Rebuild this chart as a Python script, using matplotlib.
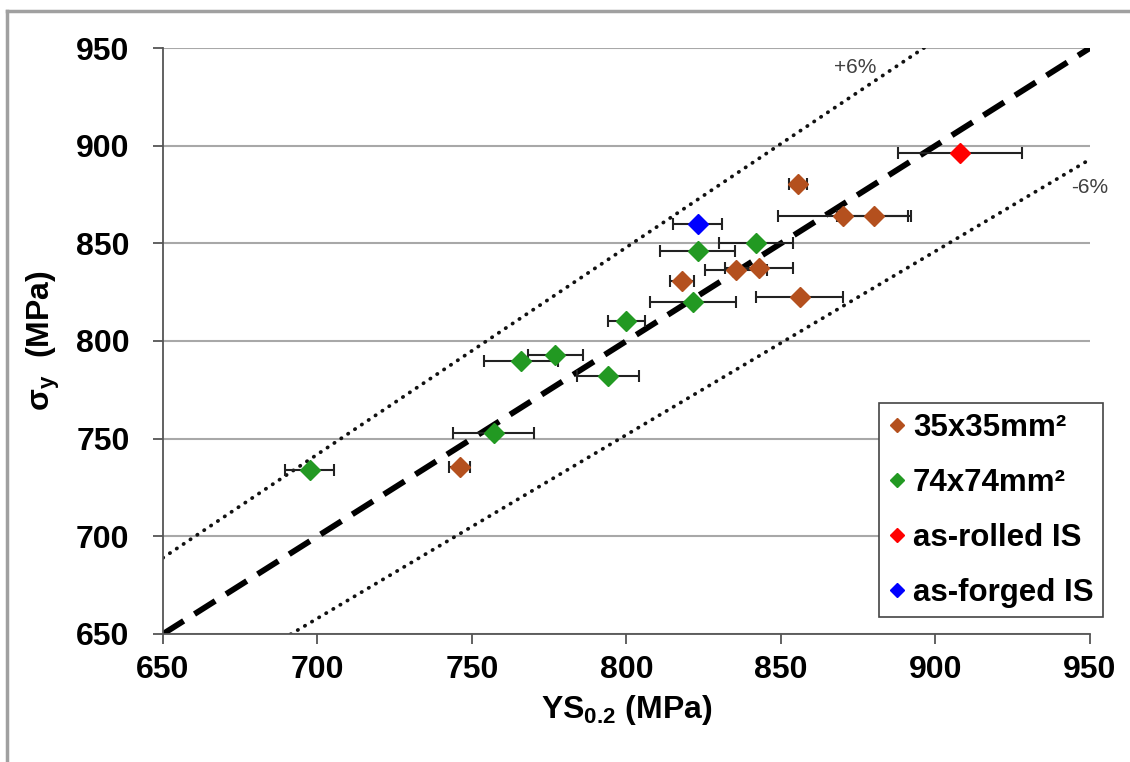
import matplotlib
matplotlib.use("Agg")
import matplotlib.pyplot as plt
from matplotlib.lines import Line2D
import numpy as np

plt.rcParams['font.family'] = ['Liberation Sans', 'DejaVu Sans']
plt.rcParams['mathtext.fontset'] = 'custom'
plt.rcParams['mathtext.rm'] = 'Liberation Sans:bold'
plt.rcParams['mathtext.bf'] = 'Liberation Sans:bold'
plt.rcParams['mathtext.it'] = 'Liberation Sans:bold'

# 35x35 mm^2 samples
ys_35 = [746, 818, 835.5, 843, 856, 855.5, 870, 880]
sy_35 = [735.5, 830.5, 836.5, 837.5, 822.5, 880.5, 864, 864]
err_35 = [3.5, 4, 10, 11, 14, 3, 21, 12]

# 74x74 mm^2 samples
ys_74 = [697.5, 757, 766, 777, 794, 800, 821.5, 823, 842]
sy_74 = [734, 753, 790, 793, 782, 810, 820, 846, 850]
err_74 = [8, 13, 12, 9, 10, 6, 14, 12, 12]

ys_rolled = [908]
sy_rolled = [896.5]
err_rolled = [20]

ys_forged = [823]
sy_forged = [860]
err_forged = [8]

line_x = [650, 950]

c_35 = '#B4501E'
c_74 = '#229922'
c_rolled = '#FF0000'
c_forged = '#0000FF'

fig = plt.figure(figsize=(11.3, 7.62), dpi=100)
ax = fig.add_axes([0.1442, 0.168, 0.8204, 0.769])

# 1:1 line and +/-6% bounds
lx = np.array(line_x)
ax.plot(lx, lx, color='black', lw=4.2, dashes=(4.2, 2.2), zorder=2)
ax.plot(lx, lx * 1.06, color='#111111', lw=2.7, linestyle=(0, (0.1, 2.1)),
        dash_capstyle='round', zorder=2)
ax.plot(lx, lx * 0.94, color='#111111', lw=2.7, linestyle=(0, (0.1, 2.1)),
        dash_capstyle='round', zorder=2)

for xs, ys, es, col in [(ys_35, sy_35, err_35, c_35),
                        (ys_74, sy_74, err_74, c_74),
                        (ys_rolled, sy_rolled, err_rolled, c_rolled),
                        (ys_forged, sy_forged, err_forged, c_forged)]:
    ax.errorbar(xs, ys, xerr=es, fmt='D', color=col, ms=10, mec=col,
                ecolor='#222222', elinewidth=1.5, capsize=4, capthick=1.5, zorder=3)

ax.text(874, 940, '+6%', fontsize=15, color='#404040', ha='center', va='center')
ax.text(950, 878.5, '-6%', fontsize=15, color='#404040', ha='center', va='center')

ax.set_xlim(650, 950)
ax.set_ylim(650, 950)
ax.set_xticks(np.arange(650, 951, 50))
ax.set_yticks(np.arange(650, 951, 50))
ax.yaxis.grid(True, color='#a8a8a8', lw=1.5)
ax.set_axisbelow(True)
for s in ['top', 'right']:
    ax.spines[s].set_visible(False)
for s in ['left', 'bottom']:
    ax.spines[s].set_color('#555555')
    ax.spines[s].set_linewidth(1.3)
ax.tick_params(axis='y', direction='out', length=7, width=1.3, color='#555555',
               pad=17, labelsize=23)
ax.tick_params(axis='x', direction='out', length=7, width=1.3, color='#555555',
               pad=8, labelsize=23)
for lab in ax.get_xticklabels() + ax.get_yticklabels():
    lab.set_fontweight('bold')

ax.set_xlabel(r'YS$_{0.2}$ (MPa)', fontsize=23, fontweight='bold', labelpad=6)
ax.set_ylabel(r'σ$_{y}$  (MPa)', fontsize=23, fontweight='bold', labelpad=10)

handles = [Line2D([], [], marker='D', color=c, ls='none', ms=7) for c in
           [c_35, c_74, c_rolled, c_forged]]
labels = ['35x35mm²', '74x74mm²', 'as-rolled IS', 'as-forged IS']
leg = ax.legend(handles, labels, loc='lower right', bbox_to_anchor=(1.014, 0.029),
                prop={'weight': 'bold', 'size': 22.5}, frameon=True, fancybox=False,
                edgecolor='#444444', framealpha=1, handlelength=0.6,
                handletextpad=0.2, labelspacing=0.8, borderpad=0.3,
                borderaxespad=0)
leg.get_frame().set_linewidth(1.2)

# chart area border (left and top visible)
fig.add_artist(Line2D([0.0062, 0.0062], [0, 0.986], transform=fig.transFigure,
                      color='#a0a0a0', lw=2.5))
fig.add_artist(Line2D([0.0062, 1.0], [0.986, 0.986], transform=fig.transFigure,
                      color='#a0a0a0', lw=2.5))

fig.savefig('out.png', dpi=100)
